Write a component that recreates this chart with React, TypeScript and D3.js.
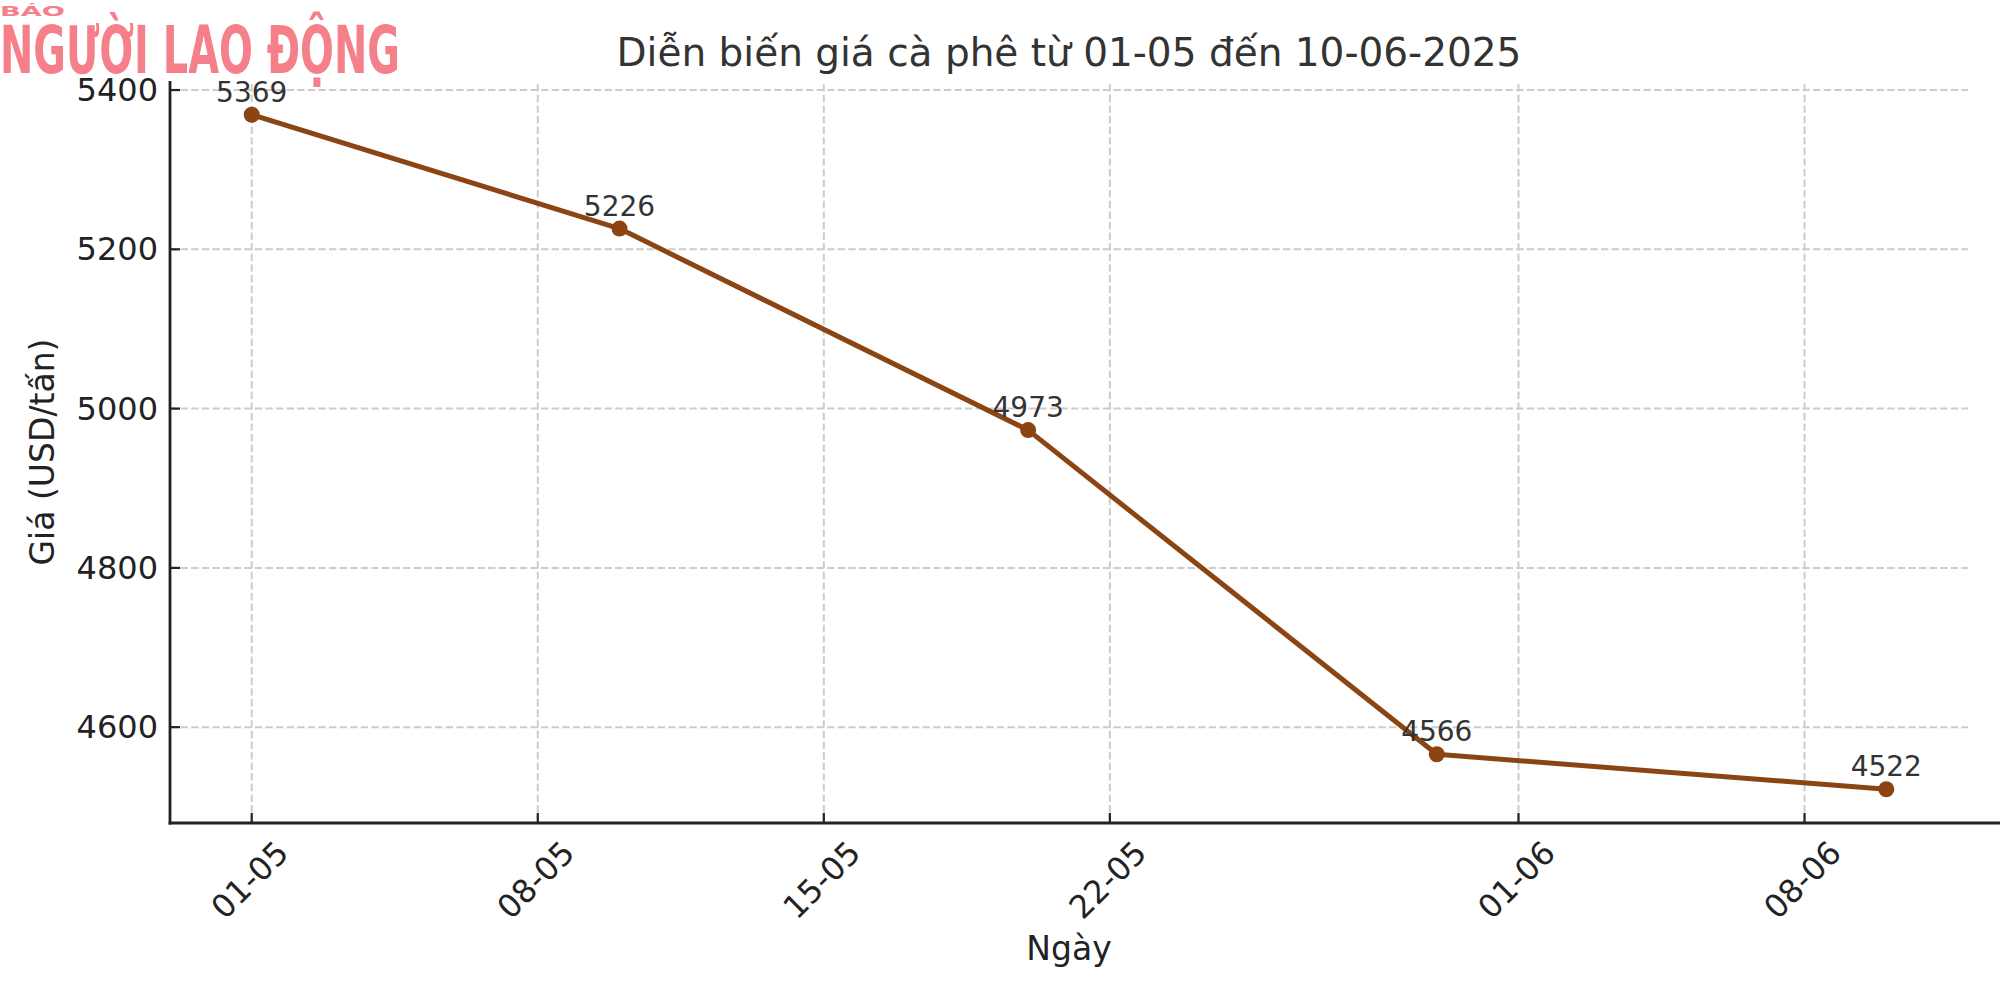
import React from 'react';
import * as d3 from 'd3';

// Giá cà phê (USD/tấn)
const dates = ['2025-05-01', '2025-05-10', '2025-05-20', '2025-05-30', '2025-06-10'];
const prices = [5369, 5226, 4973, 4566, 4522];

const xTickDates = ['2025-05-01', '2025-05-08', '2025-05-15', '2025-05-22', '2025-06-01', '2025-06-08'];
const xTickLabels = ['01-05', '08-05', '15-05', '22-05', '01-06', '08-06'];
const yTicks = [4600, 4800, 5000, 5200, 5400];

const title = 'Diễn biến giá cà phê từ 01-05 đến 10-06-2025';
const xLabel = 'Ngày';
const yLabel = 'Giá (USD/tấn)';

const W = 2000;
const H = 1000;
const margin = { left: 170, right: 32, top: 81, bottom: 177 };
const font = 'DejaVu Sans, Verdana, sans-serif';
const lineColor = '#8b4513';
const gridColor = '#cccccc';

const parse = d3.utcParse('%Y-%m-%d');

const App: React.FC = () => {
  const pts = dates.map((d, i) => ({ date: parse(d) as Date, value: prices[i] }));

  // matplotlib style 5% padding on both axes
  const [t0, t1] = d3.extent(pts, d => d.date.getTime()) as [number, number];
  const tPad = (t1 - t0) * 0.05;
  const [v0, v1] = d3.extent(pts, d => d.value) as [number, number];
  const vPad = (v1 - v0) * 0.05;

  const x = d3.scaleUtc()
    .domain([new Date(t0 - tPad), new Date(t1 + tPad)])
    .range([margin.left, W - margin.right]);
  const y = d3.scaleLinear()
    .domain([v0 - vPad, v1 + vPad])
    .range([H - margin.bottom, margin.top]);

  const line = d3.line<{ date: Date; value: number }>()
    .x(d => x(d.date))
    .y(d => y(d.value));

  const [x0, x1] = x.range();
  const [yb, yt] = y.range();
  const xTicks = xTickDates.map(d => parse(d) as Date);

  return (
    <svg width={W} height={H} style={{ position: 'absolute', left: 0, top: 0, background: '#fff' }}
      fontFamily={font}>
      <rect width={W} height={H} fill="#fff" />

      {/* logo */}
      <g fill="#f5808a">
        <text x={0} y={16} fontSize={14} fontWeight="bold" textLength={65} lengthAdjust="spacingAndGlyphs"
          fontFamily="DejaVu Sans">BÁO</text>
        <text x={0} y={73} fontSize={66} fontWeight="bold" textLength={400} lengthAdjust="spacingAndGlyphs"
          fontFamily="DejaVu Sans Condensed, DejaVu Sans">NGƯỜI LAO ĐỘNG</text>
      </g>

      {/* title */}
      <text x={(x0 + x1) / 2} y={66} textAnchor="middle" fontSize={39} fill="#333333">{title}</text>

      {/* grid */}
      <g stroke={gridColor} strokeWidth={2} strokeDasharray="7.4,3.2">
        {yTicks.map(t => (
          <line key={t} x1={x0} x2={x1} y1={y(t)} y2={y(t)} />
        ))}
        {xTicks.map((t, i) => (
          <line key={i} x1={x(t)} x2={x(t)} y1={yb} y2={yt} />
        ))}
      </g>

      {/* axes */}
      <g stroke="#222" strokeWidth={2.8}>
        <line x1={x0} x2={x0} y1={yb + 1.4} y2={yt} />
        <line x1={x0 - 1.4} x2={W} y1={yb} y2={yb} />
      </g>
      <g stroke="#222" strokeWidth={2.2}>
        {yTicks.map(t => (
          <line key={t} x1={x0} x2={x0 + 10} y1={y(t)} y2={y(t)} />
        ))}
        {xTicks.map((t, i) => (
          <line key={i} x1={x(t)} x2={x(t)} y1={yb} y2={yb - 10} />
        ))}
      </g>

      {/* tick labels */}
      <g fontSize={32} fill="#222">
        {yTicks.map(t => (
          <text key={t} x={x0 - 12} y={y(t)} textAnchor="end" dominantBaseline="central">{t}</text>
        ))}
        {xTicks.map((t, i) => (
          <text key={i} x={x(t) - 2} y={yb + 57} textAnchor="middle" dominantBaseline="central"
            transform={`rotate(-45, ${x(t) - 2}, ${yb + 57})`}>{xTickLabels[i]}</text>
        ))}
      </g>

      {/* axis labels */}
      <text x={(x0 + x1) / 2} y={960} textAnchor="middle" fontSize={33} fill="#222">{xLabel}</text>
      <text transform={`translate(54, ${(yb + yt) / 2}) rotate(-90)`} textAnchor="middle" fontSize={33}
        fill="#222">{yLabel}</text>

      {/* series */}
      <path d={line(pts) ?? ''} fill="none" stroke={lineColor} strokeWidth={5} strokeLinejoin="round" />
      {pts.map((d, i) => (
        <circle key={i} cx={x(d.date)} cy={y(d.value)} r={8} fill={lineColor} />
      ))}
      {pts.map((d, i) => (
        <text key={i} x={x(d.date)} y={y(d.value) - 13} textAnchor="middle" fontSize={28} fill="#333">
          {d.value}
        </text>
      ))}
    </svg>
  );
};

export default App;
